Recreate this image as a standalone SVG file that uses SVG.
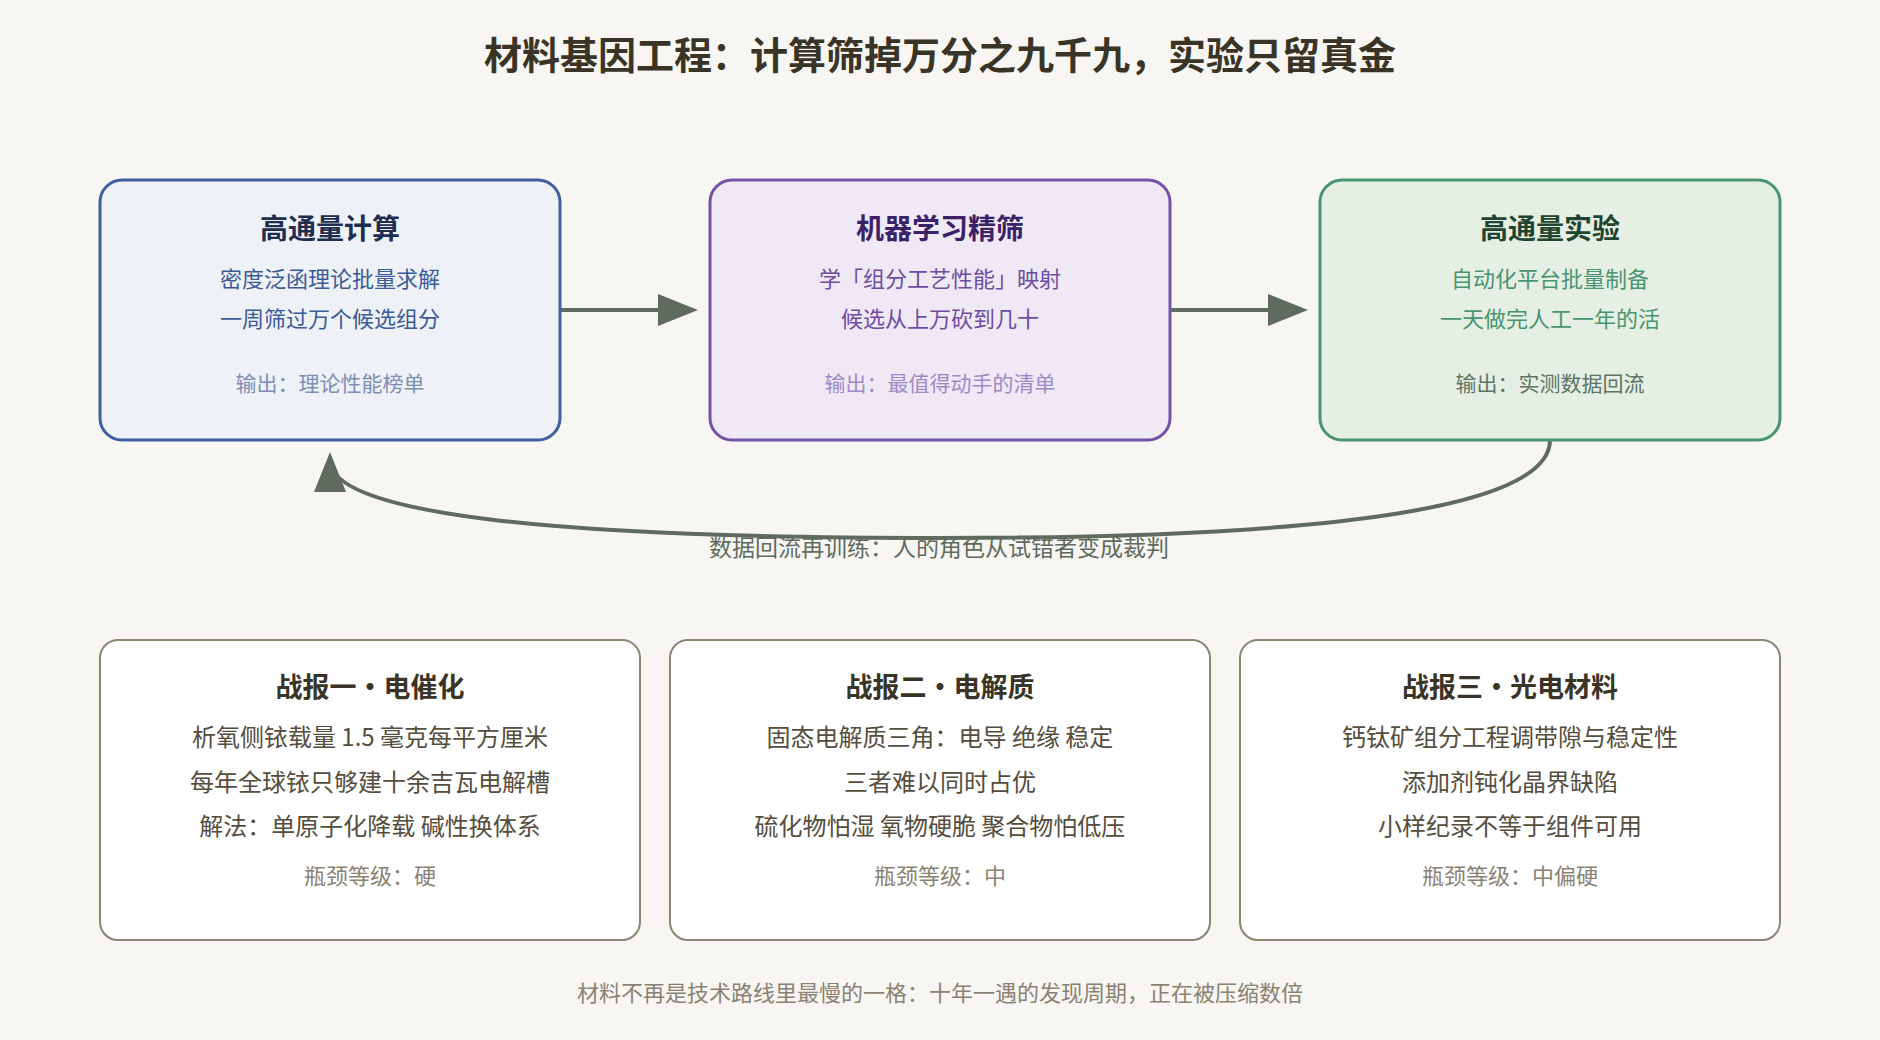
<svg xmlns="http://www.w3.org/2000/svg" width="1880" height="1040" viewBox="0 0 1880 1040">
<style>
text{font-family:"Noto Sans CJK SC","Noto Sans",sans-serif;text-anchor:middle}
.main{font-size:38px;font-weight:700;fill:#3a3426}
.bt{font-size:28px;font-weight:700}
.bl{font-size:22px}
.bo{font-size:21px}
.card{fill:#ffffff;stroke:#8a8470;stroke-width:2}
.ct{font-size:27px;font-weight:700;fill:#3a3426}
.cl{font-size:24px;fill:#554d3d}
.cf{font-size:22px;fill:#8a8272}
.conn{fill:none;stroke:#5f6b5e;stroke-width:4}
.foot{font-size:22px;fill:#8a8272}
.lab{font-size:23px;fill:#5f6b5e}
</style>
<defs>
<marker id="ah" viewBox="0 0 10 8" refX="8" refY="4" markerWidth="10" markerHeight="8" orient="auto" markerUnits="strokeWidth">
<path d="M0,0 L10,4 L0,8 z" fill="#5f6b5e"/>
</marker>
</defs>
<rect width="1880" height="1040" fill="#f7f6f2"/>
<text class="main" x="940" y="69">材料基因工程：计算筛掉万分之九千九，实验只留真金</text>

<g id="connectors">
<path class="conn" d="M560,310 L690,310" marker-end="url(#ah)"/>
<path class="conn" d="M1170,310 L1300,310" marker-end="url(#ah)"/>
<path class="conn" d="M1550,440 Q1550,538 940,538 Q330,538 330,460" marker-end="url(#ah)"/>
<text class="lab" x="939" y="556">数据回流再训练：人的角色从试错者变成裁判</text>
</g>

<g id="node-compute">
<rect x="100" y="180" width="460" height="260" rx="22" fill="#eef1f6" stroke="#3f5fa0" stroke-width="3"/>
<text class="bt" x="330" y="239" fill="#1e2d50">高通量计算</text>
<text class="bl" x="330" y="287" fill="#3d5a98">密度泛函理论批量求解</text>
<text class="bl" x="330" y="327" fill="#3d5a98">一周筛过万个候选组分</text>
<text class="bo" x="330" y="391" fill="#7d8fb5">输出：理论性能榜单</text>
</g>

<g id="node-ml">
<rect x="710" y="180" width="460" height="260" rx="22" fill="#efe8f5" stroke="#7452a8" stroke-width="3"/>
<text class="bt" x="940" y="239" fill="#3b2168">机器学习精筛</text>
<text class="bl" x="940" y="287" fill="#6e4ca4">学「组分工艺性能」映射</text>
<text class="bl" x="940" y="327" fill="#6e4ca4">候选从上万砍到几十</text>
<text class="bo" x="940" y="391" fill="#a08ac6">输出：最值得动手的清单</text>
</g>

<g id="node-exp">
<rect x="1320" y="180" width="460" height="260" rx="22" fill="#e6efe3" stroke="#4a9472" stroke-width="3"/>
<text class="bt" x="1550" y="239" fill="#1f4530">高通量实验</text>
<text class="bl" x="1550" y="287" fill="#4a9472">自动化平台批量制备</text>
<text class="bl" x="1550" y="327" fill="#4a9472">一天做完人工一年的活</text>
<text class="bo" x="1550" y="391" fill="#5b7566">输出：实测数据回流</text>
</g>

<g id="card-1">
<rect class="card" x="100" y="640" width="540" height="300" rx="18"/>
<text class="ct" x="370" y="697">战报一·电催化</text>
<text class="cl" x="370" y="746">析氧侧铱载量 1.5 毫克每平方厘米</text>
<text class="cl" x="370" y="791">每年全球铱只够建十余吉瓦电解槽</text>
<text class="cl" x="370" y="835">解法：单原子化降载 碱性换体系</text>
<text class="cf" x="370" y="884">瓶颈等级：硬</text>
</g>

<g id="card-2">
<rect class="card" x="670" y="640" width="540" height="300" rx="18"/>
<text class="ct" x="940" y="697">战报二·电解质</text>
<text class="cl" x="940" y="746">固态电解质三角：电导 绝缘 稳定</text>
<text class="cl" x="940" y="791">三者难以同时占优</text>
<text class="cl" x="940" y="835">硫化物怕湿 氧物硬脆 聚合物怕低压</text>
<text class="cf" x="940" y="884">瓶颈等级：中</text>
</g>

<g id="card-3">
<rect class="card" x="1240" y="640" width="540" height="300" rx="18"/>
<text class="ct" x="1510" y="697">战报三·光电材料</text>
<text class="cl" x="1510" y="746">钙钛矿组分工程调带隙与稳定性</text>
<text class="cl" x="1510" y="791">添加剂钝化晶界缺陷</text>
<text class="cl" x="1510" y="835">小样纪录不等于组件可用</text>
<text class="cf" x="1510" y="884">瓶颈等级：中偏硬</text>
</g>

<text class="foot" x="940" y="1001">材料不再是技术路线里最慢的一格：十年一遇的发现周期，正在被压缩数倍</text>
</svg>
